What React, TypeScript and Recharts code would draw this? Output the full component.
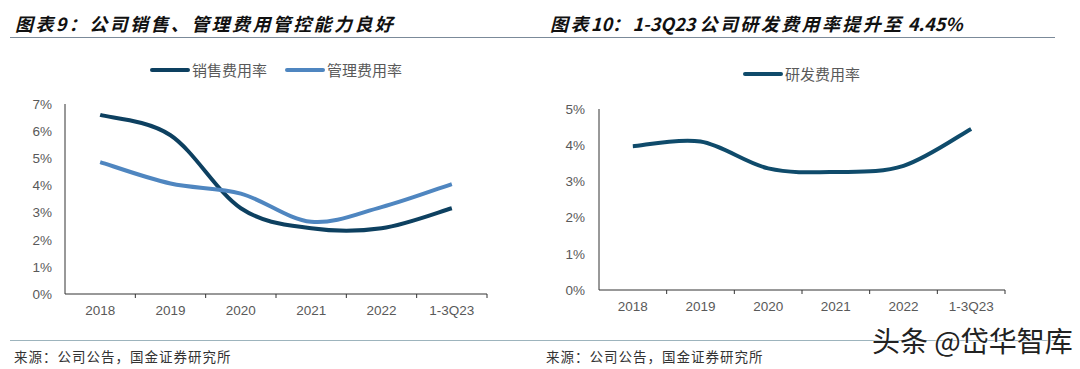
import { LineChart, Line, XAxis, YAxis } from "recharts";

// categories and values
const years = ["2018", "2019", "2020", "2021", "2022", "1-3Q23"];
const sellingRate = [6.6, 5.85, 3.16, 2.42, 2.42, 3.16];
const adminRate = [4.86, 4.07, 3.7, 2.66, 3.2, 4.05];
const rdRate = [3.97, 4.1, 3.36, 3.26, 3.43, 4.45];
const leftTicks = [0, 1, 2, 3, 4, 5, 6, 7];
const rightTicks = [0, 1, 2, 3, 4, 5];

const leftData = years.map((year, i) => ({
  year,
  selling: sellingRate[i],
  admin: adminRate[i],
}));
const rightData = years.map((year, i) => ({ year, rd: rdRate[i] }));

const DARK = "#0d4060";
const LIGHT = "#4f86c0";
const RD = "#0f4b6b";
const AXIS = "#333";
const LABEL = "#595959";
const CJK = "'Noto Sans CJK SC', sans-serif";
const LATIN = "'Liberation Sans', Arial, sans-serif";

// Excel-like smoothing (uniform Catmull-Rom as cubic bezier)
const smooth = (context: any) => {
  let pts: number[][] = [];
  return {
    areaStart() {},
    areaEnd() {},
    lineStart() {
      pts = [];
    },
    point(x: number, y: number) {
      pts.push([+x, +y]);
    },
    lineEnd() {
      if (!pts.length) return;
      context.moveTo(pts[0][0], pts[0][1]);
      for (let i = 0; i < pts.length - 1; i++) {
        const p0 = pts[Math.max(i - 1, 0)];
        const p1 = pts[i];
        const p2 = pts[i + 1];
        const p3 = pts[Math.min(i + 2, pts.length - 1)];
        context.bezierCurveTo(
          p1[0] + (p2[0] - p0[0]) / 6,
          p1[1] + (p2[1] - p0[1]) / 6,
          p2[0] - (p3[0] - p1[0]) / 6,
          p2[1] - (p3[1] - p1[1]) / 6,
          p2[0],
          p2[1]
        );
      }
    },
  };
};

const makeTick = (band: number) => (props: any) => {
  const { x, y, payload } = props;
  return (
    <g>
      <line x1={x + band / 2} x2={x + band / 2} y1={y} y2={y + 4} stroke={AXIS} strokeWidth={1} />
      <text
        x={x}
        y={y + 16}
        textAnchor="middle"
        dominantBaseline="central"
        fill={LABEL}
        fontSize={13.5}
        fontFamily={LATIN}
      >
        {payload.value}
      </text>
    </g>
  );
};

const pct = (v: number) => `${v}%`;

function LegendItem({ left, top, color, label }: { left: number; top: number; color: string; label: string }) {
  return (
    <>
      <div style={{ position: "absolute", left, top: top - 2, width: 40, height: 4, background: color, borderRadius: 2 }} />
      <div
        style={{
          position: "absolute",
          left: left + 42,
          top: top - 8,
          fontSize: 15,
          lineHeight: "16px",
          color: LABEL,
          fontFamily: CJK,
          whiteSpace: "nowrap",
        }}
      >
        {label}
      </div>
    </>
  );
}

const titleStyle: React.CSSProperties = {
  position: "absolute",
  top: 14,
  fontSize: 18,
  lineHeight: "18px",
  fontWeight: 700,
  fontStyle: "italic",
  letterSpacing: 2.4,
  color: "#111",
  fontFamily: CJK,
  whiteSpace: "nowrap",
};

const latin: React.CSSProperties = { letterSpacing: 0 };

const sourceStyle: React.CSSProperties = {
  position: "absolute",
  top: 349,
  fontSize: 13.5,
  lineHeight: "14px",
  letterSpacing: 1,
  color: "#333",
  fontFamily: CJK,
  whiteSpace: "nowrap",
};

export default function App() {
  return (
    <div
      style={{
        position: "absolute",
        left: 0,
        top: 0,
        width: 1080,
        height: 369,
        background: "#fff",
        overflow: "hidden",
      }}
    >
      <div style={{ ...titleStyle, left: 15 }}>图表9：公司销售、管理费用管控能力良好</div>
      <div style={{ ...titleStyle, left: 550 }}>
        图表<span style={latin}>10</span>：<span style={latin}>1-3Q23 </span>公司研发费用率提升至
        <span style={latin}> 4.45%</span>
      </div>
      <div style={{ position: "absolute", left: 10, top: 37, width: 1045, height: 1, background: "#7b8a99" }} />

      <LegendItem left={150} top={70} color={DARK} label="销售费用率" />
      <LegendItem left={285} top={70} color={LIGHT} label="管理费用率" />
      <LegendItem left={743} top={74} color={RD} label="研发费用率" />

      <div style={{ position: "absolute", left: 0, top: 0 }}>
        <LineChart width={540} height={330} data={leftData} margin={{ top: 104, right: 53, bottom: 0, left: 0 }}>
          <XAxis
            dataKey="year"
            scale="band"
            height={36}
            interval={0}
            tickSize={0}
            tickMargin={0}
            tickLine={false}
            axisLine={{ stroke: AXIS }}
            tick={makeTick((487 - 65) / 6)}
          />
          <YAxis
            width={65}
            domain={[0, 7]}
            ticks={leftTicks}
            tickFormatter={pct}
            tickSize={0}
            tickMargin={13}
            tickLine={false}
            axisLine={{ stroke: AXIS }}
            tick={{ fill: LABEL, fontSize: 13.5, fontFamily: LATIN }}
          />
          <Line dataKey="selling" type={smooth as any} stroke={DARK} strokeWidth={4} dot={false} isAnimationActive={false} />
          <Line dataKey="admin" type={smooth as any} stroke={LIGHT} strokeWidth={4} dot={false} isAnimationActive={false} />
        </LineChart>
      </div>

      <div style={{ position: "absolute", left: 540, top: 0 }}>
        <LineChart width={540} height={326} data={rightData} margin={{ top: 109, right: 75, bottom: 0, left: 0 }}>
          <XAxis
            dataKey="year"
            scale="band"
            height={36}
            interval={0}
            tickSize={0}
            tickMargin={0}
            tickLine={false}
            axisLine={{ stroke: AXIS }}
            tick={makeTick((1005 - 599) / 6)}
          />
          <YAxis
            width={59}
            domain={[0, 5]}
            ticks={rightTicks}
            tickFormatter={pct}
            tickSize={0}
            tickMargin={14}
            tickLine={false}
            axisLine={{ stroke: AXIS }}
            tick={{ fill: LABEL, fontSize: 13.5, fontFamily: LATIN }}
          />
          <Line dataKey="rd" type={smooth as any} stroke={RD} strokeWidth={4} dot={false} isAnimationActive={false} />
        </LineChart>
      </div>

      <div style={{ position: "absolute", left: 10, top: 340, width: 1045, height: 1, background: "#9db4bd" }} />
      <div style={{ ...sourceStyle, left: 14 }}>来源：公司公告，国金证券研究所</div>
      <div style={{ ...sourceStyle, left: 546 }}>来源：公司公告，国金证券研究所</div>
      <div
        style={{
          position: "absolute",
          left: 872,
          top: 325,
          fontSize: 28,
          lineHeight: "30px",
          color: "#222",
          fontFamily: CJK,
          whiteSpace: "nowrap",
          textShadow: "0 0 2px #fff, 0 0 2px #fff",
        }}
      >
        头条 @岱华智库
      </div>
    </div>
  );
}
